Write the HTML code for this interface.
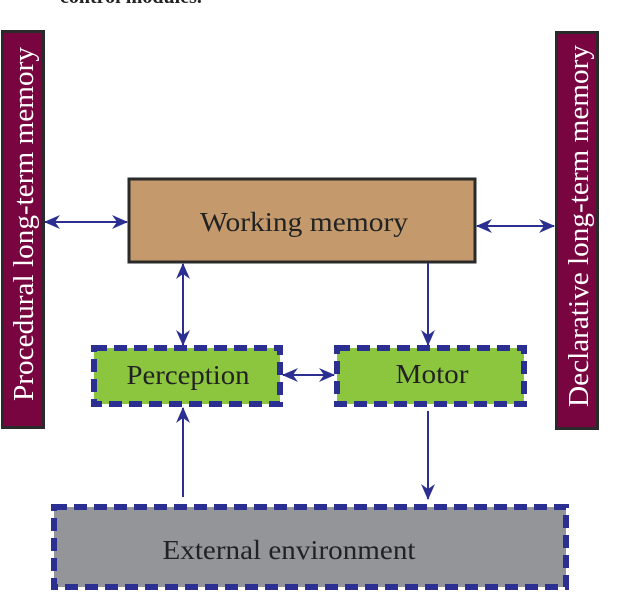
<html><body style="margin:0;width:640px;height:593px;background:#fff;position:relative;overflow:hidden;font-family:'Liberation Serif',serif">
<div style="position:absolute;left:60px;top:-14px;font-size:20px;font-weight:bold;color:#222">control modules.</div>
<svg width="640" height="593" style="position:absolute;left:0;top:0">
<defs><marker id="a" markerWidth="16" markerHeight="14" refX="15" refY="7" orient="auto-start-reverse" markerUnits="userSpaceOnUse"><path d="M0,0 L16,7 L0,14 L5,7 Z" fill="#2b2f91"/></marker></defs>
<rect x="2.5" y="31.5" width="41" height="396" fill="#780540" stroke="#2a2a2a" stroke-width="3"/>
<rect x="556.5" y="32.5" width="41" height="396" fill="#780540" stroke="#2a2a2a" stroke-width="3"/>
<text transform="translate(33,224) rotate(-90)" text-anchor="middle" font-size="28" fill="#fff" font-family="Liberation Serif" textLength="354" lengthAdjust="spacingAndGlyphs">Procedural long-term memory</text>
<text transform="translate(588,226) rotate(-90)" text-anchor="middle" font-size="28" fill="#fff" font-family="Liberation Serif" textLength="362" lengthAdjust="spacingAndGlyphs">Declarative long-term memory</text>
<rect x="129" y="179" width="346" height="83" fill="#c49a6c" stroke="#2a2a2a" stroke-width="3"/>
<text x="304" y="231" text-anchor="middle" font-size="27" fill="#222" font-family="Liberation Serif" textLength="208" lengthAdjust="spacingAndGlyphs">Working memory</text>
<rect x="94" y="348" width="186" height="56" fill="#8cc63f" stroke="#2b2f91" stroke-width="6" stroke-dasharray="13,7"/>
<text x="188" y="384" text-anchor="middle" font-size="27" fill="#222" font-family="Liberation Serif" textLength="123" lengthAdjust="spacingAndGlyphs">Perception</text>
<rect x="337" y="348" width="187" height="56" fill="#8cc63f" stroke="#2b2f91" stroke-width="6" stroke-dasharray="13,7"/>
<text x="432" y="383" text-anchor="middle" font-size="27" fill="#222" font-family="Liberation Serif" textLength="73" lengthAdjust="spacingAndGlyphs">Motor</text>
<rect x="54" y="507" width="512" height="80" fill="#939598" stroke="#2b2f91" stroke-width="6" stroke-dasharray="13,7"/>
<text x="289" y="559" text-anchor="middle" font-size="27" fill="#222" font-family="Liberation Serif" textLength="253" lengthAdjust="spacingAndGlyphs">External environment</text>
<g stroke="#2b2f91" stroke-width="2" fill="none">
<line x1="45" y1="222" x2="127" y2="222" marker-start="url(#a)" marker-end="url(#a)"/>
<line x1="477" y1="226" x2="554" y2="226" marker-start="url(#a)" marker-end="url(#a)"/>
<line x1="183" y1="264" x2="183" y2="345" marker-start="url(#a)" marker-end="url(#a)"/>
<line x1="428" y1="263" x2="428" y2="345" marker-end="url(#a)"/>
<line x1="283" y1="375" x2="334" y2="375" marker-start="url(#a)" marker-end="url(#a)"/>
<line x1="183" y1="497" x2="183" y2="408" marker-end="url(#a)"/>
<line x1="428" y1="411" x2="428" y2="499" marker-end="url(#a)"/>
</g>
</svg>
</body></html>
